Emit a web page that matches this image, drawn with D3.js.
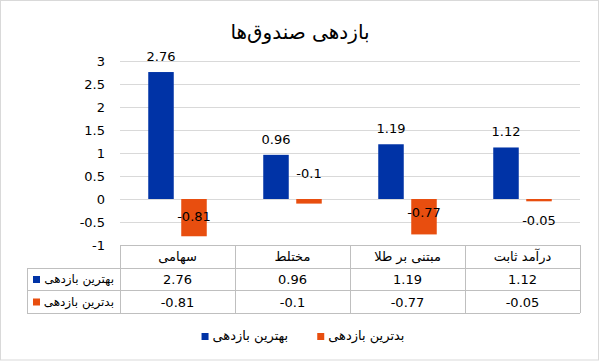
<!DOCTYPE html>
<html>
<head>
<meta charset="utf-8">
<script src="https://cdn.jsdelivr.net/npm/d3@7"></script>
<style>
  body { margin: 0; background: #fff; }
  text { font-family: "DejaVu Sans", "Liberation Sans", sans-serif; fill: #000; }
</style>
</head>
<body>
<div id="chart"></div>
<script>
var title = "بازدهی صندوق‌ها";
var categories = ["سهامی", "مختلط", "مبتنی بر طلا", "درآمد ثابت"];
var seriesNames = ["بهترین بازدهی", "بدترین بازدهی"];
var best = [2.76, 0.96, 1.19, 1.12];
var worst = [-0.81, -0.1, -0.77, -0.05];
var yTicks = [-1, -0.5, 0, 0.5, 1, 1.5, 2, 2.5, 3];

var colors = ["#0033a6", "#e84e0f"];
var values = [best, worst];

var w = 601, h = 361;
var plotLeft = 120, plotRight = 580, plotTop = 61, plotBottom = 245;

var svg = d3.select("#chart")
    .append("svg")
    .attr("width", w)
    .attr("height", h);

// outer border
svg.append("rect")
    .attr("x", 0.5).attr("y", 0.5)
    .attr("width", 598).attr("height", 359.5)
    .attr("fill", "#fff")
    .attr("stroke", "#d9d9d9");

svg.append("text")
    .attr("x", 300).attr("y", 39)
    .attr("text-anchor", "middle")
    .style("font-size", "20px")
    .text(title);

var x0 = d3.scaleBand().domain(categories).range([plotLeft, plotRight]);
var x1 = d3.scaleBand().domain(d3.range(2)).range([0, x0.bandwidth()])
    .paddingInner(0.227).paddingOuter(0.856);
var y = d3.scaleLinear().domain([-1, 3]).range([plotBottom, plotTop]);

// gridlines
svg.append("g")
    .selectAll("line")
    .data(yTicks)
    .enter()
    .append("line")
    .attr("x1", plotLeft).attr("x2", plotRight)
    .attr("y1", function (d) { return Math.round(y(d)) + 0.5; })
    .attr("y2", function (d) { return Math.round(y(d)) + 0.5; })
    .attr("stroke", "#d9d9d9");

// y axis labels
svg.append("g")
    .selectAll("text")
    .data(yTicks)
    .enter()
    .append("text")
    .attr("x", 105)
    .attr("y", function (d) { return y(d) + 5; })
    .attr("text-anchor", "end")
    .style("font-size", "13px")
    .text(function (d) { return d; });

// bars
var groups = svg.append("g")
    .selectAll("g")
    .data(categories)
    .enter()
    .append("g")
    .attr("transform", function (d) { return "translate(" + x0(d) + ",0)"; });

groups.selectAll("rect")
    .data(function (d, i) { return values.map(function (s, k) { return { k: k, v: s[i] }; }); })
    .enter()
    .append("rect")
    .attr("x", function (d) { return x1(d.k); })
    .attr("width", x1.bandwidth())
    .attr("y", function (d) { return y(Math.max(0, d.v)); })
    .attr("height", function (d) { return Math.abs(y(d.v) - y(0)); })
    .attr("fill", function (d) { return colors[d.k]; });

// data labels (worst labels were moved by hand in the original)
var worstLabelDy = [-20, -31, -22, 19];
groups.selectAll("text.lbl")
    .data(function (d, i) { return values.map(function (s, k) { return { k: k, v: s[i], i: i }; }); })
    .enter()
    .append("text")
    .attr("class", "lbl")
    .attr("x", function (d) { return x1(d.k) + x1.bandwidth() / 2; })
    .attr("y", function (d) {
        if (d.k === 0) return y(d.v) - 11;
        return y(d.v) + worstLabelDy[d.i] + 5;
    })
    .attr("text-anchor", "middle")
    .style("font-size", "13px")
    .text(function (d) { return d.v; });

// data table
var tbl = svg.append("g").attr("stroke", "#bfbfbf").attr("fill", "none");
var rowY = [245, 268, 290, 313];
var tableLeft = 27;
tbl.append("line").attr("x1", plotLeft).attr("x2", plotRight).attr("y1", rowY[0] + 0.5).attr("y2", rowY[0] + 0.5);
for (var r = 1; r < rowY.length; r++) {
    tbl.append("line").attr("x1", tableLeft).attr("x2", plotRight).attr("y1", rowY[r] + 0.5).attr("y2", rowY[r] + 0.5);
}
tbl.append("line").attr("x1", tableLeft + 0.5).attr("x2", tableLeft + 0.5).attr("y1", rowY[1]).attr("y2", rowY[3]);
x0.domain().concat([null]).forEach(function (c) {
    var xx = c === null ? plotRight : x0(c);
    tbl.append("line").attr("x1", Math.round(xx) + 0.5).attr("x2", Math.round(xx) + 0.5)
        .attr("y1", rowY[0]).attr("y2", rowY[3]);
});

svg.append("g")
    .selectAll("text")
    .data(categories)
    .enter()
    .append("text")
    .attr("x", function (d) { return x0(d) + x0.bandwidth() / 2; })
    .attr("y", 261)
    .attr("text-anchor", "middle")
    .style("font-size", "13px")
    .text(function (d) { return d; });

values.forEach(function (s, k) {
    var cy = (rowY[k + 1] + rowY[k + 2]) / 2;
    svg.append("g")
        .selectAll("text")
        .data(s)
        .enter()
        .append("text")
        .attr("x", function (d, i) { return x0(categories[i]) + x0.bandwidth() / 2; })
        .attr("y", cy + 5)
        .attr("text-anchor", "middle")
        .style("font-size", "13px")
        .text(function (d) { return d; });
    svg.append("text")
        .attr("x", 114)
        .attr("y", cy + 4)
        .attr("text-anchor", "end")
        .style("font-size", "12px")
        .text(seriesNames[k]);
    svg.append("rect")
        .attr("x", 33).attr("y", cy - 3)
        .attr("width", 7).attr("height", 7)
        .attr("fill", colors[k]);
});

// legend
var legend = svg.append("g");
var entries = legend.selectAll("g")
    .data(seriesNames)
    .enter()
    .append("g");
entries.append("rect")
    .attr("width", 7).attr("height", 7)
    .attr("y", -3)
    .attr("fill", function (d, i) { return colors[i]; });
entries.append("text")
    .attr("x", 11)
    .attr("y", 4)
    .style("font-size", "13px")
    .text(function (d) { return d; });
var lx = 0;
entries.each(function () {
    var g = d3.select(this);
    g.attr("transform", "translate(" + lx + ",0)");
    lx += 11 + g.select("text").node().getComputedTextLength() + 29;
});
lx -= 29;
legend.attr("transform", "translate(" + (303 - lx / 2) + ",336)");
</script>
</body>
</html>
